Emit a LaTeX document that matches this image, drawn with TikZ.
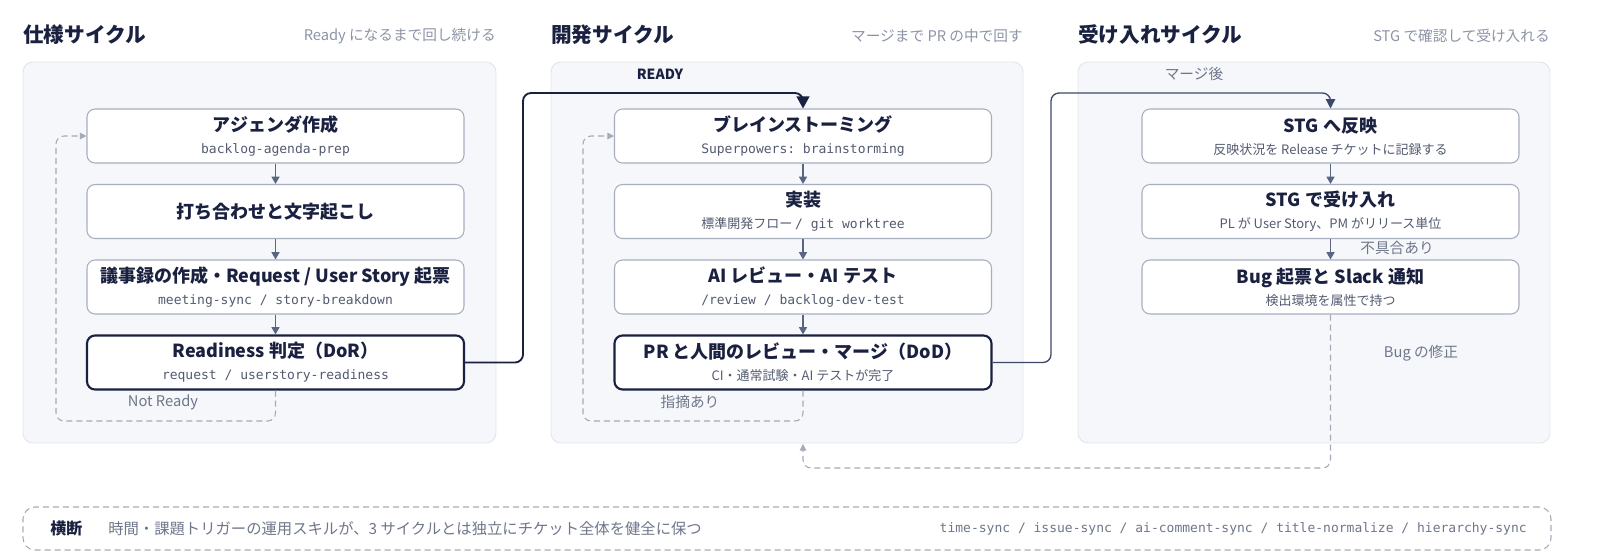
\documentclass[tikz,border=0pt]{standalone}
\usepackage{fontspec}
\setmainfont{Noto Sans CJK JP}
\setmonofont{DejaVu Sans Mono}
\usetikzlibrary{arrows.meta}

\definecolor{ink}{HTML}{1A2140}
\definecolor{hintc}{HTML}{8C93A5}
\definecolor{muted}{HTML}{6E768A}
\definecolor{subc}{HTML}{535B70}
\definecolor{edge}{HTML}{A7AFBF}
\definecolor{flow}{HTML}{5A6581}
\definecolor{loopc}{HTML}{A5AAB7}
\definecolor{panelfill}{HTML}{F5F7FA}
\definecolor{panelline}{HTML}{E1E5ED}
\definecolor{merge}{HTML}{3D4769}

\newcommand{\stagetxt}[2]{{\fontsize{13.5pt}{16pt}\selectfont\bfseries #1}\\{\color{subc}#2}}

\begin{document}
\begin{tikzpicture}[x=0.75pt, y=-0.75pt,
    panel/.style={draw=panelline, fill=panelfill, rounded corners=7.5pt, line width=0.7pt},
    stage/.style={rectangle, draw=edge, fill=white, rounded corners=6pt, line width=0.8pt,
        minimum width=282.75pt, minimum height=40.5pt, align=center, inner sep=0pt,
        font=\fontsize{9.75pt}{16.5pt}\selectfont, text=ink},
    gate/.style={stage, draw=ink, line width=1.6pt},
    head/.style={anchor=west, inner sep=0pt, text=ink, font=\fontsize{15.5pt}{17pt}\selectfont\bfseries},
    hint/.style={anchor=east, inner sep=0pt, text=hintc, font=\fontsize{11pt}{13pt}\selectfont},
    note/.style={inner sep=0pt, text=muted, font=\fontsize{11pt}{13pt}\selectfont},
    arrow/.style={->, >={Triangle[length=5.5pt,width=6pt]}, draw=flow, line width=1.1pt},
    back/.style={->, >={Triangle[length=5pt,width=5pt]}, draw=loopc, dash pattern=on 4.5pt off 3pt,
        line width=0.8pt, rounded corners=6pt},
    ready/.style={->, >={Triangle[length=9pt,width=9.5pt]}, draw=ink, line width=1.4pt, rounded corners=6pt},
    merged/.style={->, >={Triangle[length=7pt,width=7pt]}, draw=merge, line width=1pt, rounded corners=6pt}
]
\useasboundingbox (0,0) rectangle (1600,558);

% Заголовки циклов
\node[head] (H1) at (23,35) {仕様サイクル};
\node[hint] (S1) at (496,36) {Ready になるまで回し続ける};
\node[head] (H2) at (551,35) {開発サイクル};
\node[hint] (S2) at (1023,36) {マージまで PR の中で回す};
\node[head] (H3) at (1078,35) {受け入れサイクル};
\node[hint] (S3) at (1550,36) {STG で確認して受け入れる};

% Фон циклов
\draw[panel] (23,62) rectangle (496,443);
\draw[panel] (551,62) rectangle (1023,443);
\draw[panel] (1078,62) rectangle (1550,443);

% Цикл спецификации
\node[stage] (AG) at (275.5,136) {\stagetxt{アジェンダ作成}{\ttfamily backlog-agenda-prep}};
\node[stage, font=\fontsize{13.5pt}{16pt}\selectfont\bfseries] (MT) at (275.5,211.5) {打ち合わせと文字起こし};
\node[stage] (MIN) at (275.5,287) {\stagetxt{議事録の作成・Request / User Story 起票}{\ttfamily meeting-sync / story-breakdown}};
\node[gate] (DOR) at (275.5,362.5) {\stagetxt{Readiness 判定（DoR）}{\ttfamily request / userstory-readiness}};

\draw[arrow] (AG) -- (MT);
\draw[arrow] (MT) -- (MIN);
\draw[arrow] (MIN) -- (DOR);

\coordinate (NR) at (56,421);
\draw[back] (DOR.south) |- (NR) |- (AG.west);
\node[note] (NRl) at (163,402) {Not Ready};

% Цикл разработки
\node[stage] (BS) at (803,136) {\stagetxt{ブレインストーミング}{\ttfamily Superpowers: brainstorming}};
\node[stage] (IMPL) at (803,211.5) {\stagetxt{実装}{標準開発フロー {\ttfamily / git worktree}}};
\node[stage] (AIR) at (803,287) {\stagetxt{AI レビュー・AI テスト}{\ttfamily /review / backlog-dev-test}};
\node[gate] (DOD) at (803,362.5) {\stagetxt{PR と人間のレビュー・マージ（DoD）}{CI・通常試験・AI テストが完了}};

\draw[arrow] (BS) -- (IMPL);
\draw[arrow] (IMPL) -- (AIR);
\draw[arrow] (AIR) -- (DOD);

\coordinate (RV) at (583,421);
\draw[back] (DOD.south) |- (RV) |- (BS.west);
\node[note] (RVl) at (690,402) {指摘あり};

\coordinate (RD) at (523,93);
\draw[ready] (DOR.east) -| (RD) -| (BS.north);
\node[inner sep=0pt, text=ink, font=\fontsize{10.5pt}{12pt}\selectfont\bfseries] (RDl) at (660,74) {READY};

% Цикл приёмки
\node[stage] (STG) at (1330.5,136) {\stagetxt{STG へ反映}{反映状況を Release チケットに記録する}};
\node[stage] (ACC) at (1330.5,211.5) {\stagetxt{STG で受け入れ}{PL が User Story、PM がリリース単位}};
\node[stage] (BUG) at (1330.5,287) {\stagetxt{Bug 起票と Slack 通知}{検出環境を属性で持つ}};

\draw[arrow] (STG) -- (ACC);
\draw[arrow] (ACC) -- (BUG);
\node[note] (NGl) at (1397,248) {不具合あり};

\coordinate (MG) at (1051,93);
\draw[merged] (DOD.east) -| (MG) -| (STG.north);
\node[note] (MGl) at (1194,74) {マージ後};

\coordinate (BF) at (803,468);
\coordinate (P2S) at (803,444);
\draw[back] (BUG.south) |- (BF) -- (P2S);
\node[note] (BFl) at (1421,353) {Bug の修正};

% Сквозные навыки
\node[draw=loopc, dash pattern=on 4.5pt off 3pt, line width=0.8pt, rounded corners=9pt,
    minimum width=1146pt, minimum height=32.25pt, inner sep=0pt] (X) at (787,528.5) {};
\node[anchor=west, inner sep=0pt, text=ink, font=\fontsize{12pt}{14pt}\selectfont\bfseries] (Xt) at (50,528.5) {横断};
\node[anchor=west, inner sep=0pt, text=muted, font=\fontsize{11.5pt}{13pt}\selectfont] (Xd) at (108,528.5)
    {時間・課題トリガーの運用スキルが、3 サイクルとは独立にチケット全体を健全に保つ};
\node[anchor=east, inner sep=0pt, text=muted, font=\fontsize{9.75pt}{12pt}\selectfont\ttfamily] (Xs) at (1527,528.5)
    {time-sync / issue-sync / ai-comment-sync / title-normalize / hierarchy-sync};

\end{tikzpicture}
\end{document}
